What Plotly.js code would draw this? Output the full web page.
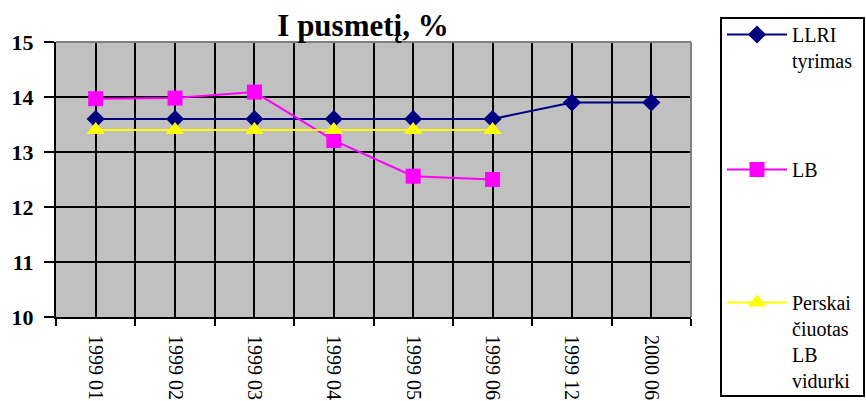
<!DOCTYPE html>
<html><head><meta charset="utf-8">
<script src="https://cdn.plot.ly/plotly-3.0.1.min.js"></script>
<style>html,body{margin:0;padding:0;background:#fff}</style>
</head><body><div id="chart" style="width:866px;height:401px"></div>
<script>
const categories = ["1999 01","1999 02","1999 03","1999 04","1999 05","1999 06","1999 12","2000 06"];
const llri = [13.6,13.6,13.6,13.6,13.6,13.6,13.9,13.9];
const lb = [13.97,13.98,14.09,13.21,12.56,12.5,null,null];
const lbAvg = [13.4,13.4,13.4,13.4,13.4,13.4,null,null];
const seriesNames = ["LLRI<br>tyrimas","LB","Perskai<br>čiuotas<br>LB<br>vidurki"];
const yTicks = [10,11,12,13,14,15];

const idx = categories.map((c,i)=>i);
const FF = "Liberation Serif";
const traces = [
  {x:idx,y:llri,name:seriesNames[0],mode:'lines+markers',legend:'legend',
   line:{color:'#000080',width:2},marker:{symbol:'diamond',size:14,color:'#000080'}},
  {x:idx,y:lb,name:seriesNames[1],mode:'lines+markers',legend:'legend2',
   line:{color:'#FF00FF',width:2},marker:{symbol:'square',size:15,color:'#FF00FF'}},
  {x:idx,y:lbAvg,name:seriesNames[2],mode:'lines+markers',legend:'legend3',
   line:{color:'#FFFF00',width:2},marker:{symbol:'triangle-up',size:16,color:'#FFFF00'}}
];
function leg(topPx){
  return {xref:'container',yref:'container',x:722/866,y:1-topPx/401,xanchor:'left',yanchor:'top',
          bgcolor:'rgba(0,0,0,0)',borderwidth:0,font:{size:20,family:FF,color:'#000'},
          valign:'top',itemwidth:60,maxheight:400};
}
const layout = {
  width:866,height:401,
  margin:{l:56,r:175,t:42,b:84},
  paper_bgcolor:'#ffffff',plot_bgcolor:'#C0C0C0',
  font:{family:FF,color:'#000'},
  title:{text:'<b>I pusmetį, %</b>',font:{size:31,family:FF,color:'#000'},xref:'paper',x:0.4835,xanchor:'center',
         yref:'container',y:1-25/401,yanchor:'middle'},
  xaxis:{range:[-0.5,7.5],tickmode:'array',tickvals:idx,ticktext:categories,tickangle:90,
         tickfont:{size:20,family:FF,color:'#000'},ticks:'',ticklabelstandoff:12,showgrid:true,gridcolor:'#000',gridwidth:2,
         minor:{tick0:-0.5,dtick:1,ticks:'outside',ticklen:7,tickwidth:2,tickcolor:'#000',showgrid:true,gridcolor:'#000',gridwidth:2},
         showline:true,linecolor:'#000',linewidth:2,zeroline:false,fixedrange:true},
  yaxis:{range:[10,15],tickmode:'array',tickvals:yTicks,ticktext:yTicks.map(v=>'<b>'+v+'</b>'),
         tickfont:{size:22,family:FF,color:'#000'},ticklabelstandoff:6,
         ticks:'outside',ticklen:10,tickwidth:2,tickcolor:'#000',showgrid:true,gridcolor:'#000',gridwidth:2,
         showline:true,linecolor:'#000',linewidth:2,zeroline:false,fixedrange:true},
  shapes:[
    {type:'line',xref:'paper',yref:'paper',x0:0,x1:1,y0:1,y1:1,line:{color:'#808080',width:2}},
    {type:'line',xref:'paper',yref:'paper',x0:1,x1:1,y0:0,y1:1,line:{color:'#808080',width:2}},
    {type:'rect',xref:'paper',yref:'paper',x0:(721-56)/635,x1:(864-56)/635,y0:(317-396)/275,y1:(317-18)/275,
     line:{color:'#000',width:2},fillcolor:'rgba(0,0,0,0)'}
  ],
  showlegend:true,
  legend:leg(15),
  legend2:leg(150),
  legend3:leg(283)
};
Plotly.newPlot('chart',traces,layout,{displayModeBar:false,staticPlot:true});
</script></body></html>
